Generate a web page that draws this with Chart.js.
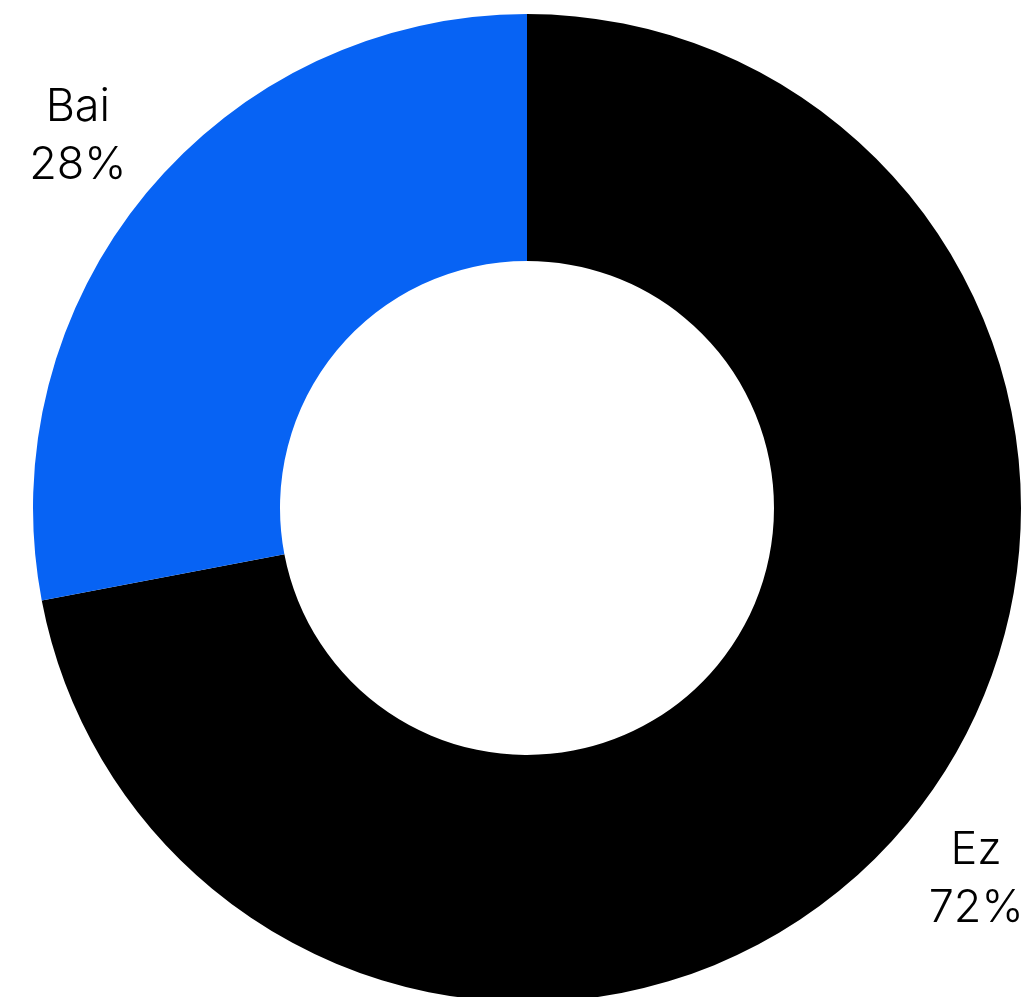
<!DOCTYPE html>
<html>
<head>
<meta charset="utf-8">
<script src="https://cdn.jsdelivr.net/npm/chart.js@4"></script>
<style>
    html, body { margin: 0; padding: 0; background: #fff; overflow: hidden; }
    #wrap { position: absolute; left: 0; top: 0; width: 1030px; height: 1010px; }
</style>
</head>
<body>
<div id="wrap"><canvas id="shareChart" width="1030" height="1010"></canvas></div>
<script>
const labels = ['Ez', 'Bai'];
const values = [72, 28];
const colors = ['#000000', '#0763f4'];

const theme = {
    text: '#000000',
    font: "'Inter', 'Lato', sans-serif"
};

// draws "name / pct%" outside each slice, along its mid angle
const outsideLabels = {
    id: 'outsideLabels',
    afterDatasetsDraw(chart) {
        const ctx = chart.ctx;
        const meta = chart.getDatasetMeta(0);
        const total = values.reduce((a, b) => a + b, 0);
        ctx.save();
        ctx.fillStyle = theme.text;
        ctx.font = `300 45px ${theme.font}`;
        ctx.textAlign = 'center';
        ctx.textBaseline = 'middle';
        meta.data.forEach((arc, i) => {
            const p = arc.getProps(['x', 'y', 'startAngle', 'endAngle', 'outerRadius'], true);
            const mid = (p.startAngle + p.endAngle) / 2;
            const r = p.outerRadius * 1.18;
            const x = p.x + Math.cos(mid) * r;
            const y = p.y + Math.sin(mid) * r;
            const pct = Math.round(values[i] / total * 100);
            ctx.fillText(labels[i], x, y - 29);
            ctx.fillText(`${pct}%`, x, y + 29);
        });
        ctx.restore();
    }
};

new Chart(document.getElementById('shareChart'), {
    type: 'doughnut',
    data: {
        labels,
        datasets: [{
            data: values,
            backgroundColor: colors,
            borderWidth: 0
        }]
    },
    options: {
        responsive: false,
        animation: false,
        cutout: '50%',
        layout: {
            padding: { top: 14, bottom: 8, left: 33, right: 9 }
        },
        plugins: {
            legend: { display: false },
            tooltip: { enabled: false }
        }
    },
    plugins: [outsideLabels]
});
</script>
</body>
</html>
